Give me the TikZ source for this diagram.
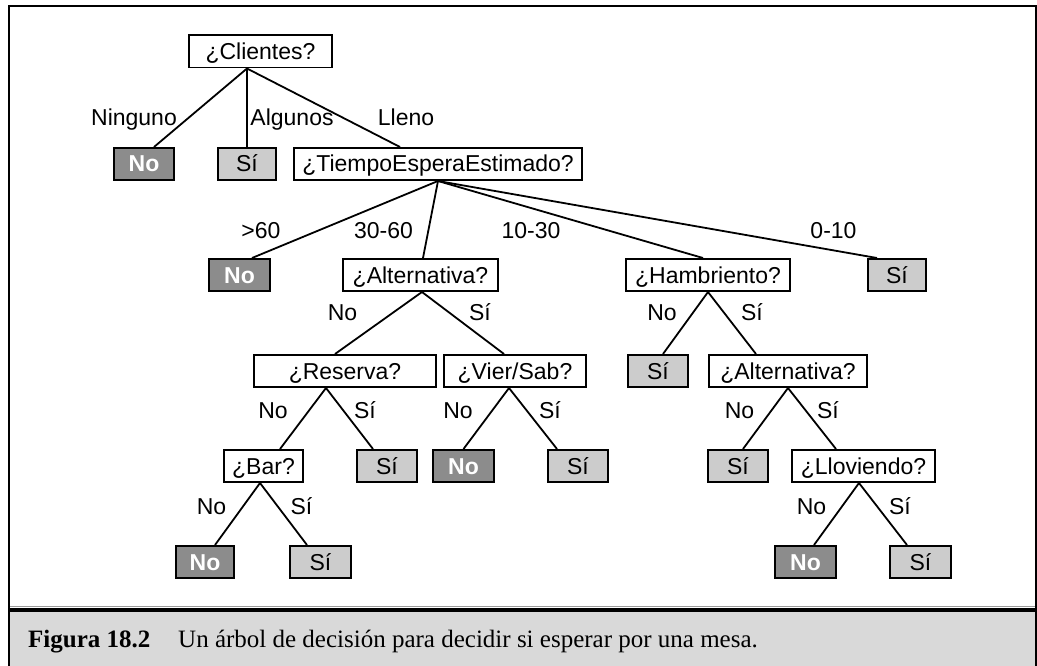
\documentclass[tikz,border=0pt]{standalone}
\usepackage{fontspec}
\setmainfont{Liberation Sans}
\newfontfamily\capfont{Liberation Serif}
\definecolor{darkfill}{HTML}{8C8C8C}
\definecolor{lightfill}{HTML}{CCCCCC}
\definecolor{capbg}{HTML}{D9D9D9}
\definecolor{sepgray}{HTML}{9A9A9A}
\begin{document}
\begin{tikzpicture}[x=1pt,y=-1pt,
  box/.style={draw=black, line width=1.8pt, inner sep=0pt, minimum height=32.2pt,
    text height=16pt, text depth=0pt, font=\fontsize{23}{27}\selectfont},
  qbox/.style={box, fill=white},
  yesbox/.style={box, fill=lightfill},
  nobox/.style={box, fill=darkfill, text=white, font=\fontsize{23}{27}\selectfont\bfseries},
  lab/.style={anchor=base, inner sep=0pt, font=\fontsize{23}{27}\selectfont},
  branch/.style={line width=1.8pt}]
\useasboundingbox (0,0) rectangle (1037,666);
% caption background and frame
\fill[capbg] (9,612) rectangle (1036,666);
\draw[sepgray, line width=1pt] (9,606.5) -- (1036,606.5);
\draw[black, line width=4pt] (9,610) -- (1036,610);
\draw[line width=2pt] (9,666) -- (9,6) -- (1035.5,6) -- (1035.5,666);
\node[anchor=base west, inner sep=0pt, font=\capfont\fontsize{25}{30}\selectfont\bfseries] (capa) at (28,647) {Figura 18.2};
\node[anchor=base west, inner sep=0pt, font=\capfont\fontsize{25}{30}\selectfont] (capb) at (178,647) {Un árbol de decisión para decidir si esperar por una mesa.};

% level 1
\node[qbox, minimum width=143.2pt] (cli) at (260.5,51.5) {¿Clientes?};
% level 2
\node[nobox, minimum width=60.2pt] (n1) at (144,164) {No};
\node[yesbox, minimum width=58.2pt] (s1) at (247,164) {Sí};
\node[qbox, minimum width=288.2pt] (tie) at (438,164) {¿TiempoEsperaEstimado?};
% level 3
\node[nobox, minimum width=61.2pt] (n2) at (239.5,275) {No};
\node[qbox, minimum width=155.2pt] (alt) at (420.5,275) {¿Alternativa?};
\node[qbox, minimum width=164.2pt] (ham) at (708,275) {¿Hambriento?};
\node[yesbox, minimum width=58.2pt] (s2) at (897,275) {Sí};
% level 4
\node[qbox, minimum width=182.2pt] (res) at (345,371) {¿Reserva?};
\node[qbox, minimum width=142.2pt] (vie) at (515,371) {¿Vier/Sab?};
\node[yesbox, minimum width=60.2pt] (s3) at (658,371) {Sí};
\node[qbox, minimum width=158.2pt] (alt2) at (788,371) {¿Alternativa?};
% level 5
\node[qbox, minimum width=79.2pt] (bar) at (263.5,466) {¿Bar?};
\node[yesbox, minimum width=60.2pt] (s4) at (387,466) {Sí};
\node[nobox, minimum width=61.2pt] (n3) at (463.5,466) {No};
\node[yesbox, minimum width=60.2pt] (s5) at (578,466) {Sí};
\node[yesbox, minimum width=60.2pt] (s6) at (738,466) {Sí};
\node[qbox, minimum width=143.2pt] (llo) at (863.5,466) {¿Lloviendo?};
% level 6
\node[nobox, minimum width=58.2pt] (n4) at (205,562) {No};
\node[yesbox, minimum width=61.2pt] (s7) at (320.5,562) {Sí};
\node[nobox, minimum width=61.2pt] (n5) at (805.5,562) {No};
\node[yesbox, minimum width=61.2pt] (s8) at (920.5,562) {Sí};

% connectors
\draw[branch] ([xshift=-13.5pt]cli.south) -- ([xshift=10pt]n1.north);
\draw[branch] ([xshift=-13.5pt]cli.south) -- (s1.north);
\draw[branch] ([xshift=-13.5pt]cli.south) -- ([xshift=-38pt]tie.north);
\draw[branch] (tie.south) -- ([xshift=12.5pt]n2.north);
\draw[branch] (tie.south) -- ([xshift=2.5pt]alt.north);
\draw[branch] (tie.south) -- ([xshift=-5pt]ham.north);
\draw[branch] (tie.south) -- ([xshift=-20pt]s2.north);
\draw[branch] ([xshift=1.5pt]alt.south) -- ([xshift=-10pt]res.north);
\draw[branch] ([xshift=1.5pt]alt.south) -- ([xshift=-11pt]vie.north);
\draw[branch] (ham.south) -- ([xshift=5pt]s3.north);
\draw[branch] (ham.south) -- ([xshift=-32pt]alt2.north);
\draw[branch] ([xshift=-19pt]res.south) -- ([xshift=16.5pt]bar.north);
\draw[branch] ([xshift=-19pt]res.south) -- ([xshift=-14pt]s4.north);
\draw[branch] ([xshift=-6pt]vie.south) -- (n3.north);
\draw[branch] ([xshift=-6pt]vie.south) -- ([xshift=-21pt]s5.north);
\draw[branch] (alt2.south) -- ([xshift=5pt]s6.north);
\draw[branch] (alt2.south) -- ([xshift=-27.5pt]llo.north);
\draw[branch] ([xshift=-3.5pt]bar.south) -- ([xshift=10pt]n4.north);
\draw[branch] ([xshift=-3.5pt]bar.south) -- ([xshift=-13.5pt]s7.north);
\draw[branch] ([xshift=-4.5pt]llo.south) -- ([xshift=8.5pt]n5.north);
\draw[branch] ([xshift=-4.5pt]llo.south) -- ([xshift=-13.5pt]s8.north);

% edge labels
\node[lab] (l1) at (134,126) {Ninguno};
\node[lab] (l2) at (292,126) {Algunos};
\node[lab] (l3) at (406,126) {Lleno};
\node[lab] (l4) at (261,239) {>60};
\node[lab] (l5) at (383.5,239) {30-60};
\node[lab] (l6) at (531,239) {10-30};
\node[lab] (l7) at (833.5,239) {0-10};
\node[lab] (l8) at (342.5,320) {No};
\node[lab] (l9) at (480,320) {Sí};
\node[lab] (l10) at (662,320) {No};
\node[lab] (l11) at (752,320) {Sí};
\node[lab] (l12) at (273,418) {No};
\node[lab] (l13) at (365,418) {Sí};
\node[lab] (l14) at (458,418) {No};
\node[lab] (l15) at (550,418) {Sí};
\node[lab] (l16) at (739.5,418) {No};
\node[lab] (l17) at (828,418) {Sí};
\node[lab] (l18) at (211.5,514) {No};
\node[lab] (l19) at (301.5,514) {Sí};
\node[lab] (l20) at (811.5,514) {No};
\node[lab] (l21) at (900,514) {Sí};
\end{tikzpicture}
\end{document}
